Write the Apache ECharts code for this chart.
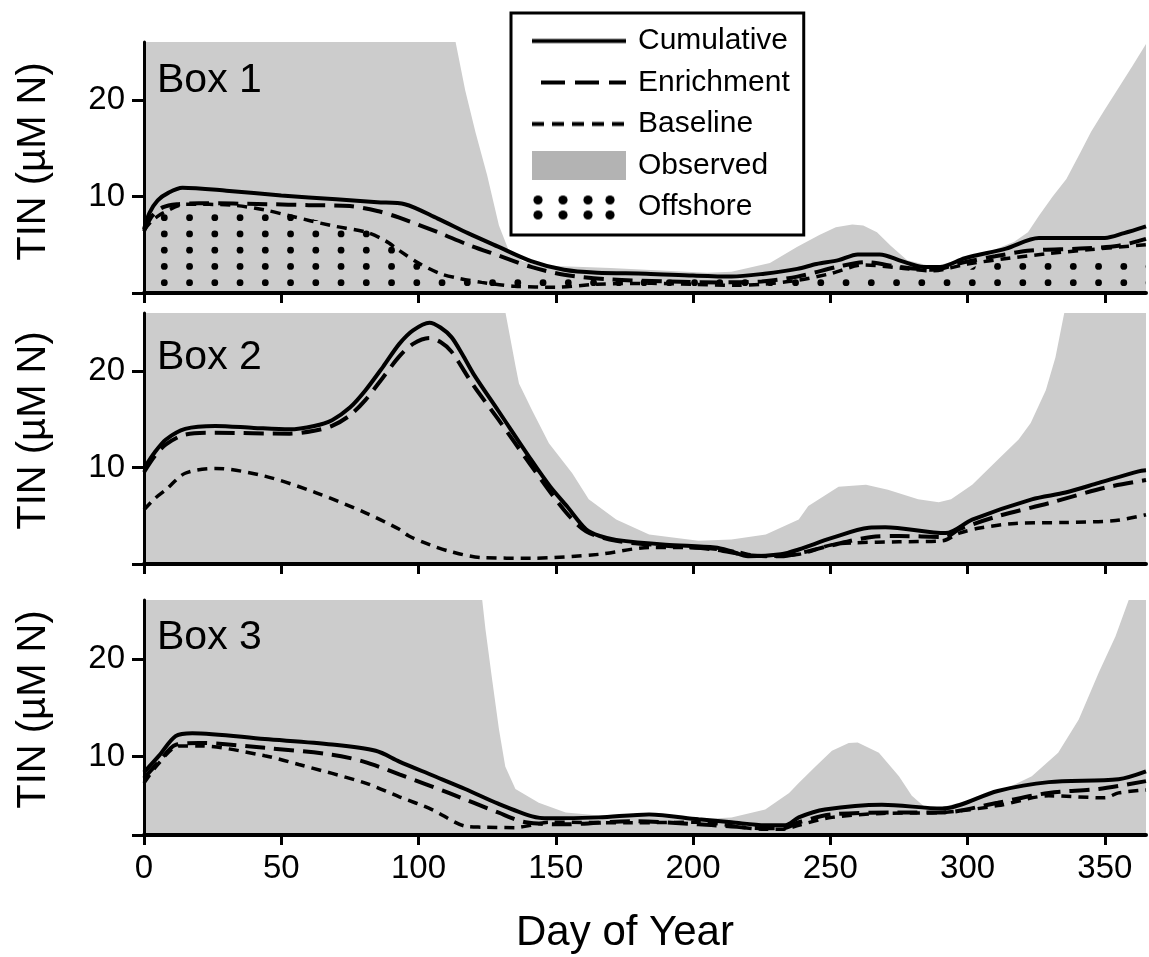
<!DOCTYPE html>
<html><head><meta charset="utf-8">
<script src="https://cdn.jsdelivr.net/npm/echarts@6/dist/echarts.min.js"></script>
<style>html,body{margin:0;padding:0;background:#fff}#c{width:1149px;height:957px}</style>
</head><body><div id="c"></div>
<script>
// ---------- data ----------
const xTicks = [0, 50, 100, 150, 200, 250, 300, 350];
const yTickLabels = [10, 20];
const boxNames = ['Box 1', 'Box 2', 'Box 3'];
const legendNames = ['Cumulative', 'Enrichment', 'Baseline', 'Observed', 'Offshore'];
const xTitle = 'Day of Year';
const yTitle = 'TIN (µM N)';

// Box 1
const box1Observed = [[0,27],[110,27],[113.5,26],[117,21],[120.8,16.6],[125,12.2],[129.3,7],[133,4.3],[138,3.3],[143.8,2.9],[150,2.8],[170,2.6],[190,2.3],[205,2.1],[214,2.2],[228,3.1],[238,4.8],[246,6.0],[252,6.8],[258,7.1],[262,7.0],[267,6.3],[272,4.9],[278,3.4],[285,2.9],[290,2.9],[300,3.7],[310,4.5],[317,5.3],[322,6.3],[326,8.0],[331,10.0],[336,11.8],[341,14.5],[345,16.7],[350,19.0],[354,20.8],[360,23.5],[365,25.8]];
const box1Offshore = [[0,6.2],[5,8.4],[55,8.4],[62,7.6],[75,7.0],[82,6.7],[88,5.5],[92,5.0],[100,3.5],[110,2.0],[120,1.6],[140,1.5],[200,1.5],[240,1.7],[262,2.2],[285,2.0],[300,2.3],[306,3.3],[365,3.6]];
const box1Cumulative = [[0,6.6],[2,8.3],[5,9.6],[9,10.4],[14,10.9],[30,10.6],[50,10.1],[70,9.7],[85,9.4],[95,9.2],[107,7.7],[118,6.2],[129,4.8],[141,3.3],[153,2.4],[165,2.1],[183,2.0],[200,1.8],[214,1.7],[226,2.0],[238,2.5],[245,3.0],[253,3.4],[260,4.0],[268,4.0],[276,3.3],[284,2.7],[290,2.7],[299,3.6],[314,4.6],[326,5.7],[350,5.7],[357,6.2],[365,6.9]];
const box1Enrichment = [[0,6.4],[3,8.0],[7,8.9],[12,9.2],[20,9.3],[45,9.2],[60,9.1],[75,9.0],[85,8.5],[93,7.8],[107,6.3],[118,5.0],[129,3.9],[141,2.7],[153,1.9],[170,1.4],[190,1.2],[210,1.1],[225,1.2],[238,1.7],[254,2.8],[263,3.2],[275,2.7],[287,2.4],[299,3.2],[310,3.8],[323,4.4],[341,4.6],[355,4.9],[365,5.6]];
const box1Baseline = [[0,6.5],[3,7.5],[7,8.3],[15,9.2],[32,9.1],[44,8.6],[53,8.0],[68,7.0],[81,6.3],[88,5.4],[93,4.4],[100,3.1],[108,2.0],[115,1.5],[123,1.1],[135,0.7],[150,0.6],[165,0.9],[185,1.0],[200,0.9],[215,0.8],[225,0.9],[238,1.3],[250,2.0],[262,2.9],[275,2.6],[287,2.3],[300,3.0],[315,3.6],[330,4.1],[345,4.5],[365,5.0]];

// Box 2
const box2Observed = [[0,27],[130,27],[131.7,26],[135.4,20.4],[136.6,18.7],[141.4,15.9],[147.5,12.5],[156,9.4],[162,6.7],[172,4.6],[184,3.05],[202,2.4],[214,2.55],[226.5,3.05],[238.5,4.6],[242,6.0],[253,8.0],[263,8.2],[271,7.7],[282,6.7],[289.5,6.4],[294,6.7],[301.7,8.2],[311,10.8],[318.6,12.9],[323,14.6],[328.5,18],[332,21.4],[335,25.7],[336,27],[365,27]];
const box2Cumulative = [[0,9.9],[4,11.6],[8,12.9],[15,14.0],[26,14.3],[40,14.1],[53,13.95],[62,14.3],[68.5,14.9],[75,16.2],[80.7,18.0],[87,20.4],[93,22.8],[98,24.2],[104,25.0],[108,24.5],[112,23.5],[116,21.7],[120,19.7],[129,15.9],[141,10.8],[148,8.0],[154,6.0],[161,3.6],[166,2.9],[172,2.5],[190,2.0],[208,1.7],[214,1.3],[220,0.8],[232,1.0],[238.5,1.5],[250.6,2.7],[264,3.75],[270,3.8],[292,3.2],[301.7,4.6],[323.4,6.7],[335.7,7.4],[347.8,8.4],[362.3,9.6],[365,9.7]];
const box2Enrichment = [[0,9.5],[4,11.2],[8,12.4],[15,13.4],[26,13.6],[53,13.5],[62,13.8],[68.5,14.3],[75,15.4],[80.7,17.0],[87,19.3],[93,21.5],[98,22.8],[104,23.4],[108,23.0],[112,22.0],[120,18.5],[129,15.0],[141,10.2],[153,5.6],[161,3.4],[172,2.4],[190,1.9],[208,1.5],[220,0.9],[232,0.8],[240,1.2],[250,1.9],[265,2.8],[275,2.9],[292,2.8],[297,3.6],[311,4.95],[329.6,6.3],[350,7.9],[365,8.7]];
const box2Baseline = [[0,5.6],[4,6.8],[8,7.7],[15,9.4],[26,9.9],[44,9.1],[62.5,7.4],[80.7,5.3],[93,3.6],[96.5,2.9],[104,2.0],[111,1.34],[123,0.66],[141,0.6],[165.7,1.0],[184,1.7],[200,1.7],[215,1.3],[225,0.8],[238.5,1.0],[250.6,2.0],[259,2.2],[275,2.3],[290.8,2.4],[297,3.2],[305,3.75],[317.4,4.2],[335.7,4.3],[354,4.5],[365,5.1]];

// Box 3
const box3Observed = [[0,27],[121,27],[123.2,26],[124.4,23],[126.8,17.9],[129.3,12.8],[131.6,9.0],[135.3,6.7],[143.8,5.3],[153.6,4.3],[165.7,4.0],[190,3.8],[202,3.6],[214,3.8],[226.3,4.6],[235,6.3],[238.5,7.3],[244.6,9.0],[250.6,10.6],[256.7,11.4],[260,11.45],[267.7,10.4],[275,8.0],[279.7,6.0],[284.6,4.8],[290,4.8],[301.7,5.6],[316,7.0],[323.4,8.0],[333,10.4],[340.5,13.8],[347.8,18.6],[353.9,22.3],[358.7,26],[360,27],[365,27]];
const box3Cumulative = [[0,8.4],[5.5,10.1],[11.5,12.1],[17.6,12.4],[44,11.8],[68.5,11.25],[84.4,10.6],[93,9.5],[105,8.1],[117,6.7],[129,5.2],[141.4,3.9],[147.5,3.7],[165.7,3.8],[184,4.1],[202,3.6],[214,3.3],[226.3,3.0],[233.6,3.0],[238.5,3.8],[248,4.6],[268.8,5.1],[290.7,4.7],[311,6.5],[329.6,7.4],[355,7.7],[365,8.5]];
const box3Enrichment = [[0,7.8],[5.5,9.5],[11.5,11.2],[20,11.4],[44,10.9],[68.5,10.2],[80,9.5],[93,8.2],[111,6.3],[129,4.3],[139,3.3],[153.6,3.1],[177.8,3.4],[202,3.1],[226,2.7],[233,2.7],[238.5,3.3],[250.6,4.1],[275,4.3],[290.7,4.3],[311,5.3],[329.6,6.3],[347.8,6.7],[365,7.5]];
const box3Baseline = [[0,7.3],[5,9.2],[12.7,11.1],[20,11.1],[44,10.1],[56.4,9.2],[80.7,7.3],[93,5.9],[104.9,4.6],[117,2.9],[123,2.8],[135.3,2.75],[141,3.0],[147.5,3.3],[177.8,3.25],[202,3.3],[226,2.6],[233,2.6],[238.5,3.0],[250.6,3.8],[268.8,4.2],[290.7,4.3],[311,5.0],[329.6,6.0],[350,5.8],[355,6.3],[365,6.6]];

// ---------- rendering ----------
const FONT = 'Liberation Sans, Arial, sans-serif';
const panels = [
  {obs: box1Observed, off: box1Offshore, cum: box1Cumulative, enr: box1Enrichment, base: box1Baseline, min: 0},
  {obs: box2Observed, off: null, cum: box2Cumulative, enr: box2Enrichment, base: box2Baseline, min: 0},
  {obs: box3Observed, off: null, cum: box3Cumulative, enr: box3Enrichment, base: box3Baseline, min: 2}
];
const gridLayout = [{top: 42, height: 251}, {top: 313, height: 251}, {top: 600, height: 235}];

function makeCanvas(w, h, draw) {
  const c = document.createElement('canvas'); c.width = w; c.height = h;
  draw(c.getContext('2d')); return c;
}
// dotted fill pattern for Offshore
const dotPattern = makeCanvas(101, 65, ctx => {
  ctx.fillStyle = '#000';
  [12.8, 38.05, 63.3, 88.55].forEach(x => [6.45, 22.7, 38.95, 55.2].forEach(y => {
    ctx.beginPath(); ctx.arc(x, y, 3.4, 0, Math.PI * 2); ctx.fill();
  }));
});
function icon(draw) { return 'image://' + makeCanvas(94, 29, draw).toDataURL(); }
const legendIcons = {
  Cumulative: icon(ctx => { ctx.lineWidth = 4; ctx.beginPath(); ctx.moveTo(0, 14.5); ctx.lineTo(94, 14.5); ctx.stroke(); }),
  Enrichment: icon(ctx => { ctx.lineWidth = 4; ctx.setLineDash([24, 10]); ctx.beginPath(); ctx.moveTo(9, 14.5); ctx.lineTo(94, 14.5); ctx.stroke(); }),
  Baseline: icon(ctx => { ctx.lineWidth = 4; ctx.setLineDash([12, 8]); ctx.beginPath(); ctx.moveTo(0, 14.5); ctx.lineTo(94, 14.5); ctx.stroke(); }),
  Observed: icon(ctx => { ctx.fillStyle = '#b3b3b3'; ctx.fillRect(0, 0, 94, 29); }),
  Offshore: icon(ctx => { ctx.fillStyle = '#000'; [6, 31, 56, 78].forEach(x => [7.5, 22.5].forEach(y => { ctx.beginPath(); ctx.arc(x, y, 4.6, 0, Math.PI * 2); ctx.fill(); })); })
};

const grids = [], xAxes = [], yAxes = [], series = [];
panels.forEach((p, i) => {
  grids.push({left: 144, right: 3, top: gridLayout[i].top, height: gridLayout[i].height});
  xAxes.push({
    gridIndex: i, type: 'value', min: 0, max: 365, z: 10,
    axisLine: {show: true, lineStyle: {color: '#000', width: 4}},
    axisTick: {show: true, length: 10, customValues: xTicks, lineStyle: {color: '#000', width: 3}},
    axisLabel: {show: i === 2, customValues: xTicks, fontSize: 33, color: '#000', fontFamily: FONT, margin: 17},
    splitLine: {show: false},
    name: i === 2 ? xTitle : '', nameLocation: 'middle', nameGap: 77,
    nameTextStyle: {fontSize: 42, color: '#000', fontFamily: FONT, padding: [0, 40, 0, 0]}
  });
  yAxes.push({
    gridIndex: i, type: 'value', min: p.min, max: 26, z: 10,
    axisLine: {show: true, lineStyle: {color: '#000', width: 3}},
    axisTick: {show: true, length: 12, customValues: [p.min].concat(yTickLabels), lineStyle: {color: '#000', width: 3}},
    axisLabel: {customValues: yTickLabels, fontSize: 33, color: '#000', fontFamily: FONT, margin: 19},
    splitLine: {show: false},
    name: yTitle, nameLocation: 'middle', nameGap: 90,
    nameTextStyle: {fontSize: 40, color: '#000', fontFamily: FONT, padding: [0, 0, 0, i === 0 ? 12 : 16]}
  });
  const base = {xAxisIndex: i, yAxisIndex: i, type: 'line', symbol: 'none', showSymbol: false, animation: false};
  series.push(Object.assign({}, base, {name: 'Observed', data: p.obs, z: 1, lineStyle: {width: 0}, areaStyle: {color: '#cccccc', opacity: 1}}));
  if (p.off) series.push(Object.assign({}, base, {name: 'Offshore', data: p.off, z: 2, lineStyle: {width: 0}, areaStyle: {color: {image: dotPattern, repeat: 'repeat'}, opacity: 1}}));
  series.push(Object.assign({}, base, {name: 'Baseline', data: p.base, z: 3, smooth: 0.3, lineStyle: {color: '#000', width: 3.5, type: [10, 7]}}));
  series.push(Object.assign({}, base, {name: 'Enrichment', data: p.enr, z: 4, smooth: 0.3, lineStyle: {color: '#000', width: 4, type: [20, 9]}}));
  series.push(Object.assign({}, base, {name: 'Cumulative', data: p.cum, z: 5, smooth: 0.3, lineStyle: {color: '#000', width: 4}}));
});

const chart = echarts.init(document.getElementById('c'), null, {renderer: 'canvas'});
chart.setOption({
  animation: false,
  backgroundColor: '#fff',
  title: boxNames.map((t, i) => ({text: t, left: 157, top: [60, 337, 617][i], padding: 0,
    textStyle: {fontSize: 41, fontWeight: 'normal', color: '#000', fontFamily: FONT}})),
  legend: {
    orient: 'vertical', left: 511, top: 13, selectedMode: false,
    data: legendNames.map(n => ({name: n, icon: legendIcons[n]})),
    itemWidth: 94, itemHeight: 29, itemGap: 11.5,
    backgroundColor: '#fff', borderColor: '#000', borderWidth: 3, borderRadius: 0,
    padding: [13, 14, 13, 21],
    textStyle: {fontSize: 30, color: '#000', fontFamily: FONT, padding: [0, 0, 0, 7]}
  },
  grid: grids, xAxis: xAxes, yAxis: yAxes, series: series
});
</script></body></html>
